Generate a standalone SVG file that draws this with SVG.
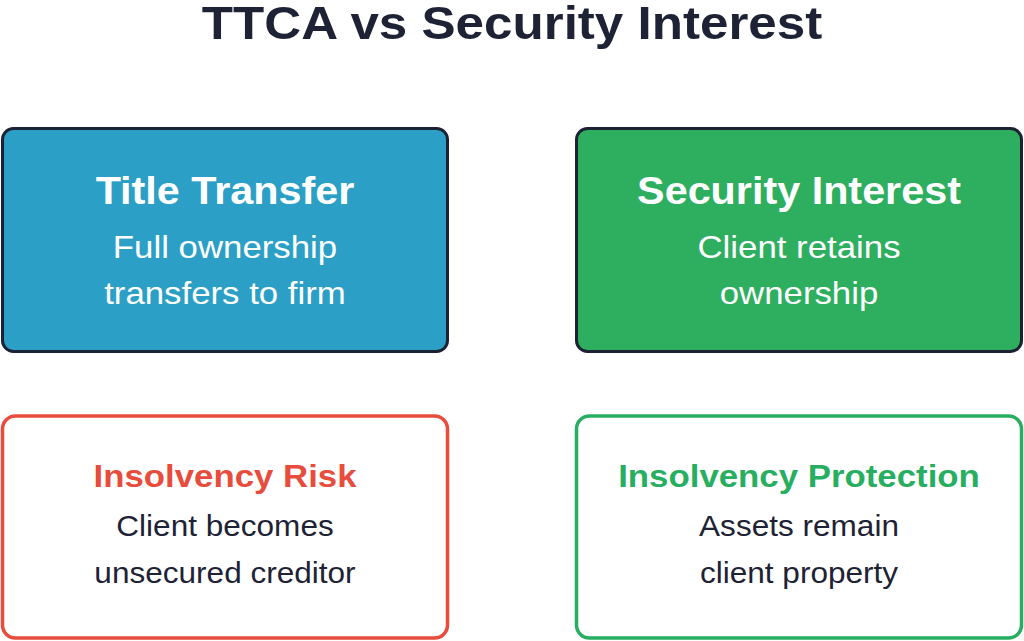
<svg xmlns="http://www.w3.org/2000/svg" width="1024" height="641" viewBox="0 0 1024 641">
  <style>
    text { font-family: "Liberation Sans", Arial, sans-serif; text-anchor: middle; }
    .title { font-size: 47px; font-weight: bold; fill: #1e2235; }
    .head { font-size: 38px; font-weight: bold; fill: #ffffff; }
    .sub { font-size: 32px; fill: #ffffff; }
    .head2 { font-size: 32px; font-weight: bold; }
    .sub2 { font-size: 29px; fill: #1e2235; }
    .top { stroke: #1a2233; stroke-width: 3; }
    .bot { fill: #ffffff; stroke-width: 3.5; }
  </style>
  <rect width="1024" height="641" fill="#ffffff"/>
  <g transform="translate(512,0) scale(1.088,1)">
    <text class="title" x="0" y="39">TTCA vs Security Interest</text>
  </g>
  <g id="connectors"></g>
  <g id="title-transfer">
    <rect class="top" x="2.5" y="128.5" width="445" height="223" rx="11" fill="#2b9fc6"/>
    <g transform="translate(225,0) scale(1.088,1)">
      <text class="head" x="0" y="204">Title Transfer</text>
      <text class="sub" x="0" y="258">Full ownership</text>
      <text class="sub" x="0" y="304">transfers to firm</text>
    </g>
  </g>
  <g id="security-interest">
    <rect class="top" x="576.5" y="128.5" width="445" height="223" rx="11" fill="#2eae5f"/>
    <g transform="translate(799,0) scale(1.088,1)">
      <text class="head" x="0" y="204">Security Interest</text>
      <text class="sub" x="0" y="258">Client retains</text>
      <text class="sub" x="0" y="304">ownership</text>
    </g>
  </g>
  <g id="insolvency-risk">
    <rect class="bot" x="2.5" y="416" width="445" height="222" rx="13" stroke="#e74c3c"/>
    <g transform="translate(225,0) scale(1.088,1)">
      <text class="head2" x="0" y="487" fill="#e74c3c">Insolvency Risk</text>
      <text class="sub2" x="0" y="536">Client becomes</text>
      <text class="sub2" x="0" y="583">unsecured creditor</text>
    </g>
  </g>
  <g id="insolvency-protection">
    <rect class="bot" x="576.5" y="416" width="445" height="222" rx="13" stroke="#27ae60"/>
    <g transform="translate(799,0) scale(1.088,1)">
      <text class="head2" x="0" y="487" fill="#27ae60">Insolvency Protection</text>
      <text class="sub2" x="0" y="536">Assets remain</text>
      <text class="sub2" x="0" y="583">client property</text>
    </g>
  </g>
</svg>
